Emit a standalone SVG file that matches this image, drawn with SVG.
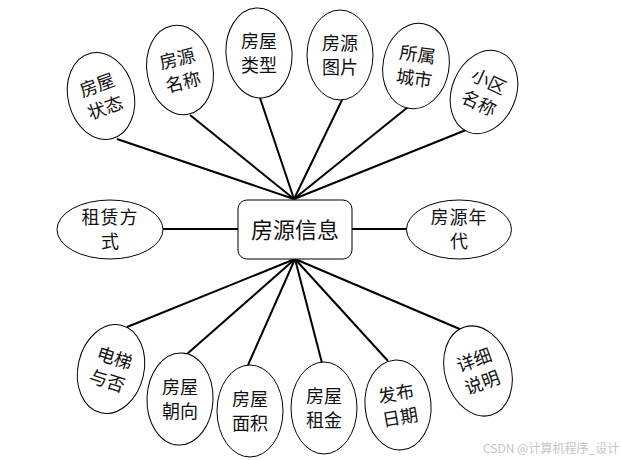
<svg xmlns="http://www.w3.org/2000/svg" width="621" height="460" viewBox="0 0 621 460">
<style>
.e{fill:#fff;stroke:#000;stroke-width:1}
.t{font-family:"Noto Sans CJK SC","Noto Sans",sans-serif;font-size:18px;fill:#111;text-anchor:middle}
.c{stroke:#000;stroke-width:2;fill:none}
.w{font-family:"Noto Sans CJK SC","Noto Sans",sans-serif;font-size:12px;fill:#c4c4c4}
</style>
<rect width="621" height="460" fill="#fff"/>
<g id="connectors">
<line class="c" x1="294" y1="199" x2="117" y2="139"/>
<line class="c" x1="294" y1="199" x2="190" y2="115"/>
<line class="c" x1="294" y1="199" x2="260" y2="98"/>
<line class="c" x1="294" y1="199" x2="342" y2="100"/>
<line class="c" x1="294" y1="199" x2="408" y2="107"/>
<line class="c" x1="294" y1="199" x2="466" y2="130"/>
<line class="c" x1="163" y1="229" x2="238" y2="229"/>
<line class="c" x1="352" y1="229" x2="407" y2="229"/>
<line class="c" x1="295" y1="259" x2="127" y2="327"/>
<line class="c" x1="295" y1="259" x2="187" y2="354"/>
<line class="c" x1="295" y1="259" x2="248" y2="365"/>
<line class="c" x1="295" y1="259" x2="322" y2="363"/>
<line class="c" x1="295" y1="259" x2="388" y2="361"/>
<line class="c" x1="295" y1="259" x2="462" y2="330"/>
</g>
<g id="center">
<rect x="238" y="200" width="114" height="59" rx="9" fill="#fff" stroke="#000" stroke-width="1"/>
<text class="t" x="295" y="238" style="font-size:22px">房源信息</text>
</g>
<g id="n-zlfs">
<ellipse class="e" cx="110" cy="229.5" rx="53" ry="29.5"/>
<text class="t" x="110" y="224" style="letter-spacing:1px">租赁方</text>
<text class="t" x="110" y="248">式</text>
</g>
<g id="n-fynd">
<ellipse class="e" cx="459" cy="229.5" rx="52.5" ry="29.5"/>
<text class="t" x="459" y="224" style="letter-spacing:1px">房源年</text>
<text class="t" x="459" y="248">代</text>
</g>
<g id="n-fwzt" transform="translate(101,96)">
<ellipse class="e" rx="33" ry="44" transform="rotate(-14)"/>
<g transform="rotate(-20)">
<text class="t" x="0" y="-5">房屋</text>
<text class="t" x="0" y="19">状态</text>
</g>
</g>
<g id="n-fymc" transform="translate(180,70)">
<ellipse class="e" rx="33" ry="45" transform="rotate(-10)"/>
<g transform="rotate(-14)">
<text class="t" x="0" y="-5">房源</text>
<text class="t" x="0" y="19">名称</text>
</g>
</g>
<g id="n-fwlx" transform="translate(259,53)">
<ellipse class="e" rx="33" ry="45" transform="rotate(-4)"/>
<text class="t" x="0" y="-5">房屋</text>
<text class="t" x="0" y="19">类型</text>
</g>
<g id="n-fytp" transform="translate(340,55)">
<ellipse class="e" rx="33" ry="45"/>
<text class="t" x="0" y="-5">房源</text>
<text class="t" x="0" y="19">图片</text>
</g>
<g id="n-sscs" transform="translate(416,66)">
<ellipse class="e" rx="33" ry="43" transform="rotate(10)"/>
<g transform="rotate(8)">
<text class="t" x="0" y="-5">所属</text>
<text class="t" x="0" y="19">城市</text>
</g>
</g>
<g id="n-xqmc" transform="translate(484,92)">
<ellipse class="e" rx="32" ry="43" transform="rotate(22)"/>
<g transform="rotate(25)">
<text class="t" x="0" y="-5">小区</text>
<text class="t" x="0" y="19">名称</text>
</g>
</g>
<g id="n-dtyf" transform="translate(111,369)">
<ellipse class="e" rx="33" ry="45" transform="rotate(13)"/>
<g transform="rotate(18)">
<text class="t" x="0" y="-5">电梯</text>
<text class="t" x="0" y="19">与否</text>
</g>
</g>
<g id="n-fwcx" transform="translate(180,399)">
<ellipse class="e" rx="33" ry="46" transform="rotate(2)"/>
<text class="t" x="0" y="-5">房屋</text>
<text class="t" x="0" y="19">朝向</text>
</g>
<g id="n-fwmj" transform="translate(250,411)">
<ellipse class="e" rx="33" ry="46"/>
<text class="t" x="0" y="-5">房屋</text>
<text class="t" x="0" y="19">面积</text>
</g>
<g id="n-fwzj" transform="translate(324,408)">
<ellipse class="e" rx="33" ry="46"/>
<text class="t" x="0" y="-5">房屋</text>
<text class="t" x="0" y="19">租金</text>
</g>
<g id="n-fbrq" transform="translate(398,405)">
<ellipse class="e" rx="33" ry="45" transform="rotate(-5)"/>
<g transform="rotate(-10)">
<text class="t" x="0" y="-5">发布</text>
<text class="t" x="0" y="19">日期</text>
</g>
</g>
<g id="n-xxsm" transform="translate(478,371)">
<ellipse class="e" rx="33" ry="46" transform="rotate(-17)"/>
<g transform="rotate(-20)">
<text class="t" x="0" y="-5">详细</text>
<text class="t" x="0" y="19">说明</text>
</g>
</g>
<text class="w" x="483" y="453">CSDN @计算机程序_设计</text>
</svg>
